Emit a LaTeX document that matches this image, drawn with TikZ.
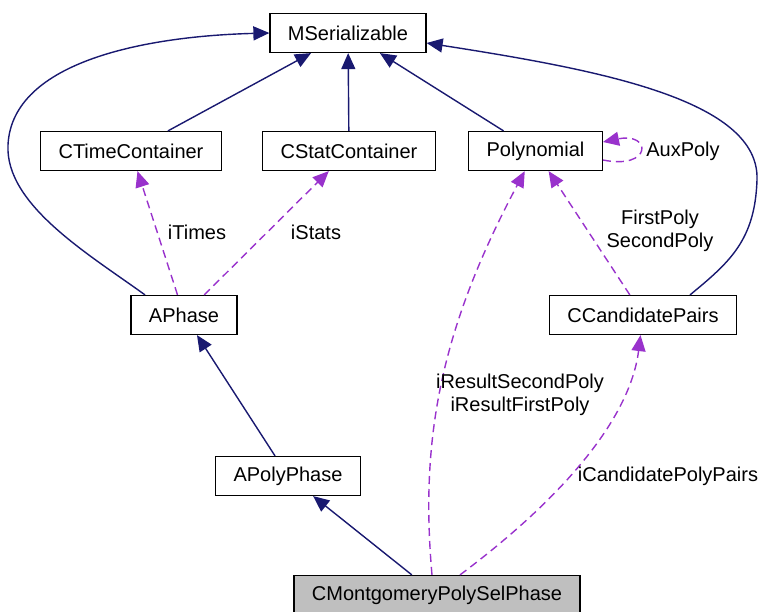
\documentclass[tikz,border=0pt]{standalone}
\usepackage{fontspec}
\setmainfont{Liberation Sans}
\usetikzlibrary{positioning,arrows.meta}
\definecolor{inhblue}{RGB}{25,25,112}
\definecolor{usepurple}{RGB}{153,50,204}
\definecolor{selgray}{RGB}{191,191,191}

\begin{document}
\begin{tikzpicture}[
    x=1pt, y=-1pt,
    cls/.style={draw=black, line width=1.2pt, fill=white, minimum height=39pt, inner xsep=18pt, font=\fontsize{20}{23}\selectfont},
    lbl/.style={align=center, inner sep=0pt, font=\fontsize{20}{23}\selectfont},
    inherit/.style={-{Triangle[length=16pt,width=14pt]}, line width=1.4pt, color=inhblue},
    usage/.style={-{Triangle[length=16pt,width=14pt]}, line width=1.4pt, color=usepurple, dash pattern=on 8pt off 5pt}
  ]
    \useasboundingbox (0,0) rectangle (774,612);

    % classes
    \node[cls] (ser) at (348,33) {MSerializable};
    \node[cls] (time) at (131,151) {CTimeContainer};
    \node[cls, right=40pt of time] (stat) {CStatContainer};
    \node[cls, right=32pt of stat] (poly) {Polynomial};
    \node[cls] (aphase) at (184,315) {APhase};
    \node[cls] (pairs) at (643,315) {CCandidatePairs};
    \node[cls] (apoly) at (288,476) {APolyPhase};
    \node[cls, fill=selgray] (mont) at (437,595) {CMontgomeryPolySelPhase};

    % inheritance
    \draw[inherit] (time) -- (ser);
    \draw[inherit] (stat) -- (ser);
    \draw[inherit] (poly) -- (ser);
    \draw[inherit] ([xshift=-39pt]aphase.north) .. controls (90,255) and (5,205) .. (8,145)
                   .. controls (12,60) and (150,36) .. (ser.west);
    \draw[inherit] ([xshift=47pt]pairs.north) .. controls (730,262) and (755,240) .. (757,180)
                   .. controls (760,100) and (600,70) .. ([yshift=-10pt]ser.east);
    \draw[inherit] (apoly) -- (aphase);
    \draw[inherit] (mont) -- (apoly);

    % members
    \draw[usage] (aphase) -- (time);
    \draw[usage] (aphase) -- (stat);
    \draw[usage] (pairs) -- (poly);
    \draw[usage] ([yshift=-9pt]poly.east) .. controls (652,170) and (652,132) .. ([yshift=9pt]poly.east);
    \draw[usage] ([xshift=-5pt]mont.north) .. controls (420,440) and (440,330) .. (poly);
    \draw[usage] ([xshift=23pt]mont.north) .. controls (560,500) and (630,420) .. (pairs);

    % member names
    \node[lbl] (lTimes) at (197,232) {iTimes};
    \node[lbl] (lStats) at (316,232) {iStats};
    \node[lbl] (lAux) at (683,151) {AuxPoly};
    \node[lbl] (lFirst) at (660,231) {FirstPoly\\SecondPoly};
    \node[lbl] (lResult) at (520,395) {iResultSecondPoly\\iResultFirstPoly};
    \node[lbl] (lCand) at (668,476) {iCandidatePolyPairs};
  \end{tikzpicture}
\end{document}
